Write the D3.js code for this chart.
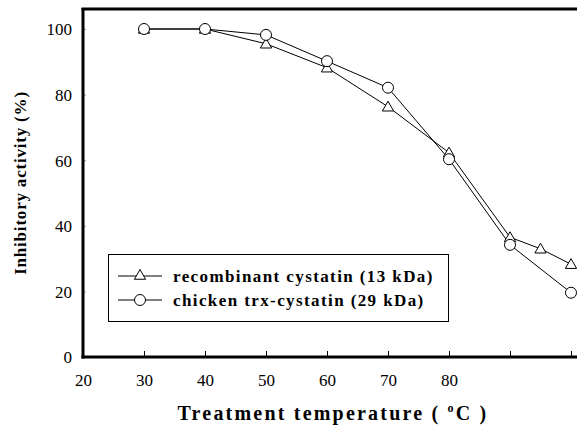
<!DOCTYPE html>
<html>
<head>
<meta charset="utf-8">
<script src="https://cdn.jsdelivr.net/npm/d3@7"></script>
</head>
<body style="margin:0">
<svg width="577" height="431"></svg>
<script>

// DATA
var recombTemp = [30, 40, 50, 60, 70, 80, 90, 95, 100];
var recombVal  = [100, 100, 95.5, 88.2, 76.3, 62.3, 36.5, 33, 28.3];

var chickenTemp = [30, 40, 50, 60, 70, 80, 90, 100];
var chickenVal  = [100, 100, 98.2, 90.2, 82.1, 60.3, 34.2, 19.6];

var xTicks = [20, 30, 40, 50, 60, 70, 80, 90, 100];
var xTickLabels = ["20", "30", "40", "50", "60", "70", "80", "", ""];
var yTicks = [0, 20, 40, 60, 80, 100];

var legendNames = ["recombinant cystatin (13 kDa)", "chicken trx-cystatin (29 kDa)"];

const FONT = "'Liberation Serif'";

var svg = d3.select("svg");

var x = d3.scaleLinear().domain([20, 100]).range([83, 571]);
var y = d3.scaleLinear().domain([0, 100]).range([357, 29]);

var recomb = recombTemp.map(function (t, i) { return {x: t, y: recombVal[i]}; });
var chicken = chickenTemp.map(function (t, i) { return {x: t, y: chickenVal[i]}; });

// x axis, ticks pointing up into the plot
var xAxis = d3.axisTop(x)
    .tickValues(xTicks)
    .tickFormat(function (d, i) { return xTickLabels[i]; })
    .tickSize(6)
    .tickSizeOuter(0);

var gX = svg.append("g")
    .attr("transform", "translate(0,357)")
    .call(xAxis);
gX.select(".domain").remove();
gX.selectAll(".tick line").attr("stroke", "#000").attr("stroke-width", 1);
gX.selectAll(".tick text")
    .attr("y", 29)
    .attr("dy", 0)
    .style("font-family", FONT)
    .style("font-size", "17px");

var yAxis = d3.axisRight(y)
    .tickValues(yTicks)
    .tickSize(3)
    .tickSizeOuter(0);

var gY = svg.append("g")
    .attr("transform", "translate(83,0)")
    .call(yAxis);
gY.select(".domain").remove();
gY.selectAll(".tick line").attr("stroke", "#999");
gY.selectAll(".tick text")
    .attr("x", -11)
    .attr("dy", "0.35em")
    .attr("text-anchor", "end")
    .style("font-family", FONT)
    .style("font-size", "17px");

// frame (left, top, bottom) - no right border
svg.append("line").attr("x1", 83).attr("x2", 83).attr("y1", 8).attr("y2", 358.5)
    .attr("stroke", "#000").attr("stroke-width", 3);
svg.append("line").attr("x1", 81.5).attr("x2", 577).attr("y1", 9).attr("y2", 9)
    .attr("stroke", "#000").attr("stroke-width", 3);
svg.append("line").attr("x1", 81.5).attr("x2", 577).attr("y1", 357).attr("y2", 357)
    .attr("stroke", "#000").attr("stroke-width", 3);

var line = d3.line()
    .x(function (d) { return x(d.x); })
    .y(function (d) { return y(d.y); });

var plot = svg.append("g");

plot.append("path").datum(recomb)
    .attr("d", line).attr("fill", "none").attr("stroke", "#000").attr("stroke-width", 1);
plot.append("path").datum(chicken)
    .attr("d", line).attr("fill", "none").attr("stroke", "#000").attr("stroke-width", 1);

var tri = d3.symbol().type(d3.symbolTriangle).size(55);

plot.selectAll(".tri")
    .data(recomb)
    .enter().append("path")
    .attr("class", "tri")
    .attr("d", tri)
    .attr("transform", function (d) { return "translate(" + x(d.x) + "," + (y(d.y) + 1) + ")"; })
    .attr("fill", "#fff").attr("stroke", "#000").attr("stroke-width", 1);

plot.selectAll(".dot")
    .data(chicken)
    .enter().append("circle")
    .attr("class", "dot")
    .attr("r", 5.5)
    .attr("cx", function (d) { return x(d.x); })
    .attr("cy", function (d) { return y(d.y); })
    .attr("fill", "#fff").attr("stroke", "#000").attr("stroke-width", 1);

// legend
var legend = svg.append("g");
legend.append("rect")
    .attr("x", 108.5).attr("y", 254.5).attr("width", 340).attr("height", 67)
    .attr("fill", "#fff").attr("stroke", "#000").attr("stroke-width", 1);

var legY = [276, 300];
legendNames.forEach(function (name, i) {
    var g = legend.append("g").attr("transform", "translate(0," + legY[i] + ")");
    g.append("line").attr("x1", 118).attr("x2", 162).attr("y1", 0).attr("y2", 0)
        .attr("stroke", "#000").attr("stroke-width", 1);
    if (i == 0) {
        g.append("path").attr("d", tri).attr("transform", "translate(140,0)")
            .attr("fill", "#fff").attr("stroke", "#000");
    } else {
        g.append("circle").attr("cx", 140).attr("cy", 0).attr("r", 5.5)
            .attr("fill", "#fff").attr("stroke", "#000");
    }
    g.append("text")
        .attr("x", 173).attr("y", 0).attr("dy", "0.35em")
        .style("font-family", FONT)
        .style("font-size", "17px").style("font-weight", "bold")
        .style("letter-spacing", "1.4px")
        .text(name);
});

// axis titles
var xTitle = svg.append("text")
    .attr("x", 333).attr("y", 420)
    .attr("text-anchor", "middle")
    .style("font-family", FONT)
    .style("font-size", "20px").style("font-weight", "bold")
    .style("letter-spacing", "2.2px");
xTitle.append("tspan").text("Treatment  temperature   ( ");
xTitle.append("tspan").attr("dy", -8).style("font-size", "12px").text("o");
xTitle.append("tspan").attr("dy", 8).text("C )");

svg.append("text")
    .attr("transform", "translate(26,183) rotate(-90)")
    .attr("text-anchor", "middle")
    .style("font-family", FONT)
    .style("font-size", "17px").style("font-weight", "bold")
    .style("letter-spacing", "0.8px")
    .text("Inhibitory activity (%)");

</script>
</body>
</html>
